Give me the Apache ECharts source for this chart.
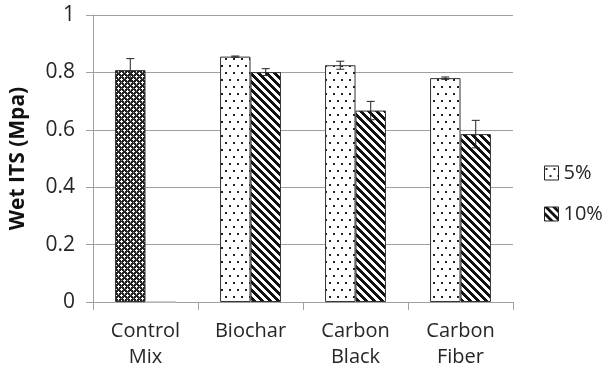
<!DOCTYPE html>
<html>
<head>
<meta charset="utf-8">
<script src="https://cdn.jsdelivr.net/npm/echarts@6/dist/echarts.min.js"></script>
<style>
html,body{margin:0;padding:0;background:#fff;}
#c{width:605px;height:372px;}
</style>
</head>
<body>
<div id="c"></div>
<script>
const categories = ['Control\nMix', 'Biochar', 'Carbon\nBlack', 'Carbon\nFiber'];
const seriesNames = ['5%', '10%'];
const values5 = [0.808, 0.855, 0.825, 0.780];
const errors5 = [0.040, 0.002, 0.014, 0.004];
const values10 = [0, 0.801, 0.667, 0.585];
const errors10 = [0, 0.012, 0.032, 0.048];
const yTicks = [0, 0.2, 0.4, 0.6, 0.8, 1];

function makeTile(w, h, draw) {
  const c = document.createElement('canvas');
  c.width = w; c.height = h;
  const g = c.getContext('2d');
  draw(g, w, h);
  return c;
}
const dotTile = makeTile(8, 14, (g) => {
  g.fillStyle = '#fff'; g.fillRect(0, 0, 8, 14);
  g.fillStyle = '#222';
  g.fillRect(1, 2, 2, 2);
  g.fillRect(5, 9, 2, 2);
});
const stripeTile = makeTile(8, 8, (g) => {
  g.fillStyle = '#fff'; g.fillRect(0, 0, 8, 8);
  g.fillStyle = '#111';
  for (let y = 0; y < 8; y++) {
    for (let k = -1; k <= 1; k++) {
      const x0 = y + k * 8;
      g.fillRect(x0, y, 4, 1);
    }
  }
});
const crossTile = makeTile(6, 6, (g) => {
  g.fillStyle = '#222'; g.fillRect(0, 0, 6, 6);
  g.fillStyle = '#fff';
  g.fillRect(1, 0, 1, 1); g.fillRect(0, 1, 3, 1); g.fillRect(1, 2, 1, 1);
  g.fillRect(4, 3, 1, 1); g.fillRect(3, 4, 3, 1); g.fillRect(4, 5, 1, 1);
  g.fillStyle = '#888';
  g.fillRect(4, 0, 1, 1); g.fillRect(1, 4, 1, 1);
});
const dotPat = { image: dotTile, repeat: 'repeat' };
const stripePat = { image: stripeTile, repeat: 'repeat' };
const crossPat = { image: crossTile, repeat: 'repeat' };

const chart = echarts.init(document.getElementById('c'), null, { renderer: 'canvas' });
const BAR_FRAC = 0.29;

function errSeries(vals, errs, side) {
  return {
    type: 'custom',
    silent: true,
    z: 10,
    data: vals.map((v, i) => [i, v, errs[i]]),
    renderItem: function (params, api) {
      const i = api.value(0), v = api.value(1), e = api.value(2);
      if (!e) return null;
      const band = api.size([1, 0])[0];
      const bw = band * BAR_FRAC;
      const c = api.coord([i, v]);
      const x = c[0] + side * bw / 2;
      const top = api.coord([i, v + e])[1];
      const bot = api.coord([i, v - e])[1];
      const cap = 4;
      const st = { stroke: '#222', lineWidth: 1 };
      return {
        type: 'group',
        children: [
          { type: 'line', shape: { x1: x, y1: top, x2: x, y2: bot }, style: st },
          { type: 'line', shape: { x1: x - cap, y1: top, x2: x + cap, y2: top }, style: st },
          { type: 'line', shape: { x1: x - cap, y1: bot, x2: x + cap, y2: bot }, style: st }
        ]
      };
    }
  };
}

const FONT = 'Open Sans';
chart.setOption({
  animation: false,
  grid: { left: 90, right: 92, top: 15, bottom: 70 },
  legend: {
    orient: 'vertical',
    left: 539, top: 158,
    itemWidth: 14, itemHeight: 14,
    itemGap: 21,
    itemStyle: { borderColor: '#222', borderWidth: 1 },
    icon: 'rect',
    textStyle: { fontFamily: FONT, fontSize: 20, color: '#262626' },
    data: seriesNames
  },
  xAxis: {
    type: 'category',
    data: categories,
    axisLine: { lineStyle: { color: '#a0a0a0', width: 1 } },
    axisTick: { show: true, length: 8, lineStyle: { color: '#a0a0a0' } },
    axisLabel: { fontFamily: FONT, fontSize: 20, color: '#262626', margin: 16, lineHeight: 26 }
  },
  yAxis: {
    type: 'value',
    min: yTicks[0], max: yTicks[yTicks.length - 1], interval: 0.2,
    name: 'Wet ITS (Mpa)',
    nameLocation: 'middle',
    nameGap: 64,
    nameTextStyle: { fontFamily: FONT, fontSize: 21, fontWeight: 'bold', color: '#111' },
    axisLine: { show: true, lineStyle: { color: '#a0a0a0' } },
    axisTick: { show: true, length: 7, lineStyle: { color: '#a0a0a0' } },
    splitLine: { lineStyle: { color: '#a0a0a0' } },
    axisLabel: { fontFamily: FONT, fontSize: 21, color: '#262626', margin: 18,
      formatter: v => String(Math.round(v * 10) / 10) }
  },
  series: [
    {
      name: seriesNames[0], type: 'bar',
      barWidth: (BAR_FRAC * 100) + '%', barGap: '0%',
      itemStyle: { color: dotPat, borderColor: '#333', borderWidth: 1 },
      data: values5.map((v, i) => i === 0 ? { value: v, itemStyle: { color: crossPat } } : v)
    },
    {
      name: seriesNames[1], type: 'bar',
      barWidth: (BAR_FRAC * 100) + '%', barGap: '0%',
      itemStyle: { color: stripePat, borderColor: '#333', borderWidth: 1 },
      data: values10.map(v => v === 0 ? { value: v, itemStyle: { borderColor: '#bbb' } } : v)
    },
    errSeries(values5, errors5, -1),
    errSeries(values10, errors10, 1)
  ]
});
</script>
</body>
</html>
